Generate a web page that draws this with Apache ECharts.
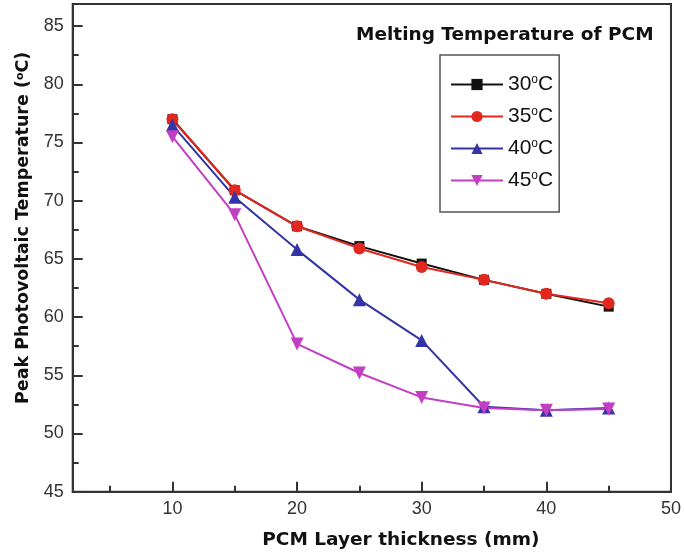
<!DOCTYPE html>
<html>
<head>
<meta charset="utf-8">
<script src="https://cdn.jsdelivr.net/npm/echarts@6/dist/echarts.min.js"></script>
<style>
  html, body { margin: 0; padding: 0; background: #fff; }
  #main { width: 684px; height: 555px; }
</style>
</head>
<body>
<div id="main"></div>
<script>
// PCM layer thickness (mm)
var thickness = [10, 15, 20, 25, 30, 35, 40, 45];
// peak PV temperature for each PCM melting temperature
var temp30 = [77.0, 70.9, 67.8, 66.1, 64.6, 63.2, 62.0, 60.9];
var temp35 = [77.0, 70.9, 67.8, 65.9, 64.3, 63.2, 62.0, 61.2];
var temp40 = [76.5, 70.3, 65.8, 61.5, 58.0, 52.3, 52.0, 52.2];
var temp45 = [75.5, 68.8, 57.7, 55.2, 53.1, 52.2, 52.0, 52.1];
var seriesNames = ['30', '35', '40', '45'];

// ticks and labels
var xLabels = [10, 20, 30, 40, 50];
var xMinorTicks = [5, 15, 25, 35, 45];
var yLabels = [45, 50, 55, 60, 65, 70, 75, 80, 85];
var yMinorTicks = [47.5, 52.5, 57.5, 62.5, 67.5, 72.5, 77.5, 82.5];

var axisColor = '#333';
var labelFont = 'Liberation Sans';
var boldFont = 'DejaVu Sans';

function pairs(ys) {
    return thickness.map(function (x, i) { return [x, ys[i]]; });
}

function lineSeries(name, ys, color, symbol, size, rotate) {
    return {
        name: name,
        type: 'line',
        data: pairs(ys),
        symbol: symbol,
        symbolSize: size,
        symbolRotate: rotate || 0,
        lineStyle: { color: color, width: 2 },
        itemStyle: { color: color },
        emphasis: { disabled: true }
    };
}

var myChart = echarts.init(document.getElementById('main'));

myChart.setOption({
    animation: false,
    title: {
        text: 'Melting Temperature of PCM',
        left: 356,
        top: 26,
        padding: 0,
        textStyle: { fontFamily: boldFont, fontWeight: 'bold', fontSize: 18.5, color: '#111' }
    },
    legend: {
        orient: 'vertical',
        left: 440,
        top: 55,
        padding: [19, 6, 21, 10],
        itemGap: 11,
        itemWidth: 52,
        itemHeight: 14,
        itemTextGap: 5,
        borderColor: '#555',
        borderWidth: 1.5,
        data: seriesNames,
        formatter: function (name) { return '{a|' + name + '}{s|o}{a|C}'; },
        textStyle: {
            color: '#111',
            rich: {
                a: { fontFamily: labelFont, fontSize: 21, color: '#111' },
                s: { fontFamily: labelFont, fontSize: 12, color: '#111', verticalAlign: 'top' }
            }
        }
    },
    grid: {
        left: 72.7,
        right: 10,
        top: 4,
        bottom: 63.3,
        show: true,
        borderColor: axisColor,
        borderWidth: 2,
        containLabel: false
    },
    xAxis: [
        {
            type: 'value',
            min: 2,
            max: 50,
            name: 'PCM Layer thickness (mm)',
            nameLocation: 'middle',
            nameGap: 39,
            nameTextStyle: {
                fontFamily: boldFont, fontWeight: 'bold', fontSize: 18.5, color: '#111',
                padding: [0, 0, 0, 58]
            },
            splitLine: { show: false },
            axisLine: { lineStyle: { color: axisColor, width: 2 } },
            axisTick: { inside: true, length: 6, customValues: xMinorTicks, lineStyle: { color: axisColor, width: 2 } },
            axisLabel: {
                margin: 8,
                fontFamily: labelFont,
                fontSize: 18,
                color: axisColor,
                customValues: xLabels
            }
        },
        {
            type: 'value',
            min: 2,
            max: 50,
            position: 'bottom',
            splitLine: { show: false },
            axisLine: { show: false },
            axisTick: { inside: true, length: 10, customValues: xLabels, lineStyle: { color: axisColor, width: 2 } },
            axisLabel: { show: false }
        }
    ],
    yAxis: [
        {
            type: 'value',
            min: 45,
            max: 86.9,
            name: 'Peak Photovoltaic Temperature ({s|o}C)',
            nameLocation: 'middle',
            nameGap: 40,
            nameTextStyle: {
                fontFamily: boldFont, fontWeight: 'bold', fontSize: 17.5, color: '#111',
                padding: [0, 0, 0, 40],
                rich: {
                    s: { fontFamily: boldFont, fontWeight: 'bold', fontSize: 11, color: '#111', verticalAlign: 'top' }
                }
            },
            splitLine: { show: false },
            axisLine: { lineStyle: { color: axisColor, width: 2 } },
            axisTick: { inside: true, length: 6, customValues: yMinorTicks, lineStyle: { color: axisColor, width: 2 } },
            axisLabel: {
                margin: 9,
                fontFamily: labelFont,
                fontSize: 18,
                color: axisColor,
                customValues: yLabels
            }
        },
        {
            type: 'value',
            min: 45,
            max: 86.9,
            position: 'left',
            offset: 0,
            splitLine: { show: false },
            axisLine: { show: false },
            axisTick: { inside: true, length: 10, customValues: yLabels, lineStyle: { color: axisColor, width: 2 } },
            axisLabel: { show: false }
        }
    ],
    series: [
        lineSeries('30', temp30, '#111111', 'rect', 10),
        lineSeries('35', temp35, '#e2281e', 'circle', 12),
        lineSeries('40', temp40, '#3434a6', 'triangle', 13),
        lineSeries('45', temp45, '#c23fc4', 'triangle', 13, 180)
    ]
});
</script>
</body>
</html>
